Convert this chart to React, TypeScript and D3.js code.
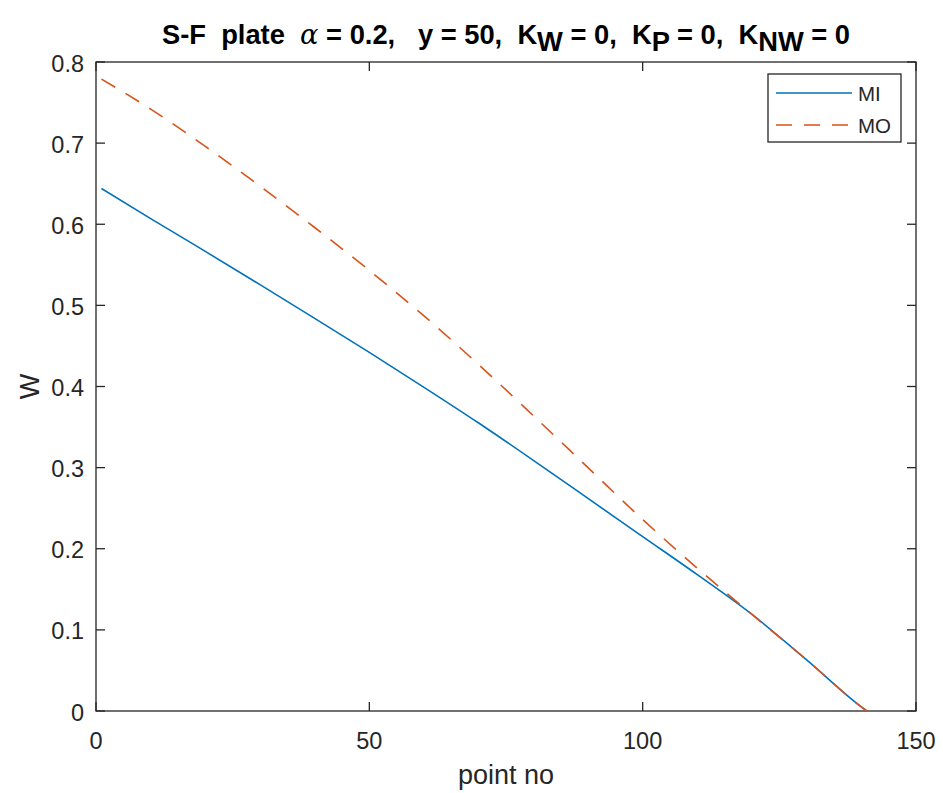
import React from "react";
import * as d3 from "d3";

const pointNo = [1, 10, 20, 30, 40, 50, 60, 70, 80, 90, 100, 110, 120, 130, 140, 141];
const miValues = [0.644, 0.607, 0.5665, 0.5255, 0.484, 0.442, 0.399, 0.355, 0.309, 0.262, 0.215, 0.168, 0.119, 0.063, 0.005, 0];
const moValues = [0.779, 0.742, 0.696, 0.647, 0.596, 0.543, 0.487, 0.427, 0.364, 0.3, 0.236, 0.176, 0.119, 0.063, 0.005, 0];
const xTicks = [0, 50, 100, 150];
const yTicks = [0, 0.1, 0.2, 0.3, 0.4, 0.5, 0.6, 0.7, 0.8];
const seriesNames = ["MI", "MO"];
const seriesColors = ["#0072BD", "#D95319"];

const W = 943;
const H = 793;
const m = { left: 96, right: 916, top: 62, bottom: 711 };
const FONT = "'Liberation Sans', Arial, Helvetica, sans-serif";
const AX = "#262626";

export default function App() {
  const x = d3.scaleLinear().domain([0, 150]).range([m.left, m.right]);
  const y = d3.scaleLinear().domain([0, 0.8]).range([m.bottom, m.top]);
  const line = d3
    .line<number>()
    .x((_, i) => x(pointNo[i]))
    .y((d) => y(d))
    .curve(d3.curveMonotoneX);
  const series = [miValues, moValues];
  const tick = 9;
  const lgX0 = 768;
  const lgX1 = 901;
  const lgY0 = 74;
  const lgY1 = 142;
  const txtStyle = (size: number, bold = false): React.CSSProperties => ({
    fontFamily: FONT,
    fontSize: size,
    fontWeight: bold ? "bold" : "normal",
    fill: AX,
    whiteSpace: "pre",
  });
  return (
    <svg width={W} height={H} style={{ position: "absolute", left: 0, top: 0, background: "#fff" }}>
      <rect x={0} y={0} width={W} height={H} fill="#fff" />
      {/* title */}
      <text
        x={(m.left + m.right) / 2}
        y={44}
        textAnchor="middle"
        textLength={688}
        lengthAdjust="spacingAndGlyphs"
        style={{ ...txtStyle(27, true), fill: "#000" }}
      >
        <tspan>S-F  plate  </tspan>
        <tspan fontFamily="'DejaVu Serif', 'Liberation Serif', serif" fontStyle="italic" fontWeight="normal">α</tspan>
        <tspan> = 0.2,   y = 50,  K</tspan>
        <tspan dy={7}>W</tspan>
        <tspan dy={-7}> = 0,  K</tspan>
        <tspan dy={7}>P</tspan>
        <tspan dy={-7}> = 0,  K</tspan>
        <tspan dy={7}>NW</tspan>
        <tspan dy={-7}> = 0</tspan>
      </text>
      {/* plot frame */}
      <rect x={m.left} y={m.top} width={m.right - m.left} height={m.bottom - m.top} fill="#fff" stroke={AX} strokeWidth={1.3} />
      {/* x ticks */}
      {xTicks.map((t) => (
        <g key={"xt" + t}>
          <line x1={x(t)} x2={x(t)} y1={m.bottom} y2={m.bottom - tick} stroke={AX} strokeWidth={1.3} />
          <line x1={x(t)} x2={x(t)} y1={m.top} y2={m.top + tick} stroke={AX} strokeWidth={1.3} />
          <text x={x(t)} y={749} textAnchor="middle" style={txtStyle(23.5)}>{t}</text>
        </g>
      ))}
      {/* y ticks */}
      {yTicks.map((t) => (
        <g key={"yt" + t}>
          <line x1={m.left} x2={m.left + tick} y1={y(t)} y2={y(t)} stroke={AX} strokeWidth={1.3} />
          <line x1={m.right} x2={m.right - tick} y1={y(t)} y2={y(t)} stroke={AX} strokeWidth={1.3} />
          <text x={84} y={y(t) + 9.5} textAnchor="end" style={txtStyle(23.5)}>
            {t === 0 ? "0" : t.toFixed(1)}
          </text>
        </g>
      ))}
      {/* axis labels */}
      <text x={(m.left + m.right) / 2} y={784} textAnchor="middle" style={txtStyle(27)}>point no</text>
      <text
        transform={`translate(39,${(m.top + m.bottom) / 2}) rotate(-90)`}
        textAnchor="middle"
        style={txtStyle(27)}
      >
        W
      </text>
      {/* lines */}
      {series.map((s, i) => (
        <path
          key={seriesNames[i]}
          d={line(s) || ""}
          fill="none"
          stroke={seriesColors[i]}
          strokeWidth={1.6}
          strokeDasharray={i === 1 ? "16,12" : undefined}
        />
      ))}
      {/* legend */}
      <rect x={lgX0} y={lgY0} width={lgX1 - lgX0} height={lgY1 - lgY0} fill="#fff" stroke={AX} strokeWidth={1.3} />
      {seriesNames.map((n, i) => {
        const yy = 93 + i * 32;
        return (
          <g key={"lg" + n}>
            <line
              x1={776}
              x2={852}
              y1={yy}
              y2={yy}
              stroke={seriesColors[i]}
              strokeWidth={1.6}
              strokeDasharray={i === 1 ? "16,12" : undefined}
            />
            <text x={858} y={yy + 7.5} style={txtStyle(20.5)}>{n}</text>
          </g>
        );
      })}
    </svg>
  );
}
